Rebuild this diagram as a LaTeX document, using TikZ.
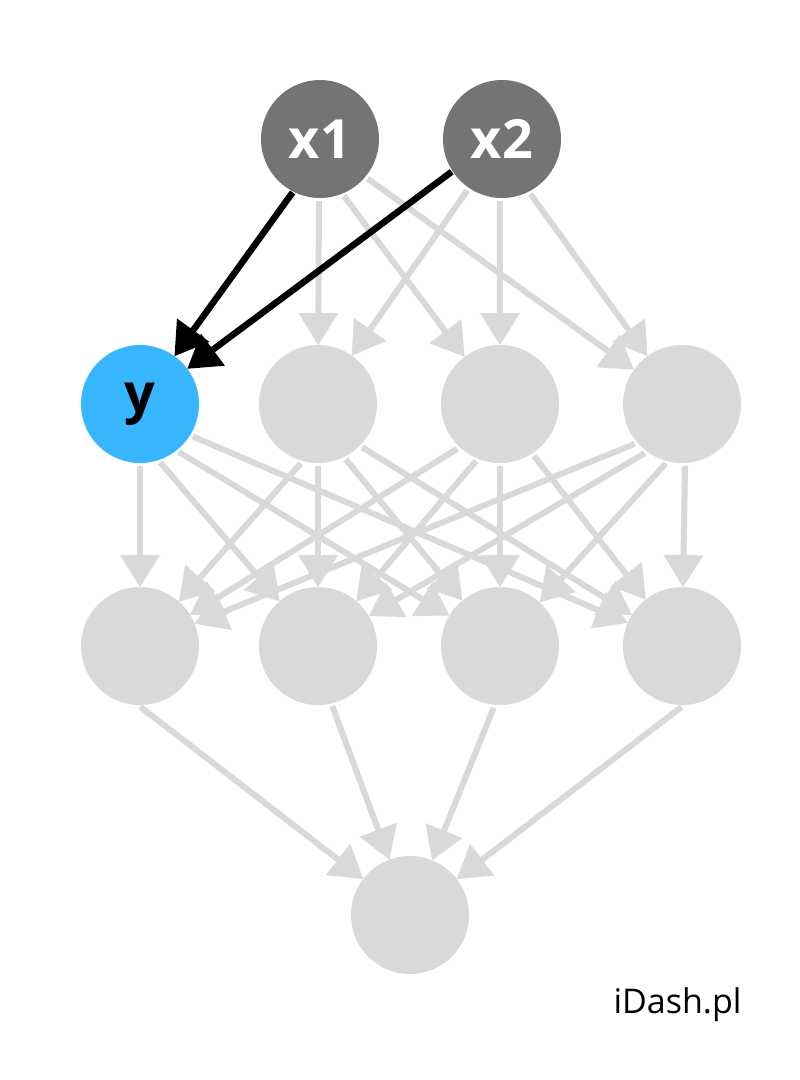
\documentclass[tikz,border=0pt]{standalone}
\usepackage{fontspec}
\setmainfont{Open Sans}
\usetikzlibrary{arrows.meta}
\definecolor{inputgray}{HTML}{747474}
\definecolor{idlegray}{HTML}{D9D9D9}
\definecolor{activeblue}{HTML}{38B6FF}
\begin{document}
\begin{tikzpicture}[x=1pt,y=-1pt,
  neuron/.style={circle,minimum size=118pt,inner sep=0pt,outer sep=0pt,fill=idlegray},
  inputneuron/.style={neuron,fill=inputgray,text=white,font=\fontsize{54}{58}\selectfont\bfseries},
  activeneuron/.style={neuron,fill=activeblue,text=black,font=\fontsize{54}{58}\selectfont\bfseries},
  gedge/.style={draw=idlegray,line width=6pt,shorten <=3pt,
    -{Triangle[length=32pt,width=40pt,line width=0pt]}},
  bedge/.style={draw=black,line width=6.5pt,shorten <=1pt,
    -{Triangle[length=32pt,width=40pt,line width=0pt]}}]
\useasboundingbox[fill=white] (0,0) rectangle (800,1080);

% inputs
\node[inputneuron] (x1) at (320,139) {x1};
\node[inputneuron] (x2) at (502,139) {x2};
% first hidden layer
\node[activeneuron] (a1) at (140,404) {y};
\node[neuron] (a2) at (318,404) {};
\node[neuron] (a3) at (500,404) {};
\node[neuron] (a4) at (682,404) {};
% second hidden layer
\node[neuron] (b1) at (140,646) {};
\node[neuron] (b2) at (318,646) {};
\node[neuron] (b3) at (500,646) {};
\node[neuron] (b4) at (682,646) {};
% output
\node[neuron] (out) at (410,915) {};

% inactive connections: source / leaving angle / target
\foreach \s/\a/\t in {
    x1/-91.5/a2, x1/-68/a3, x1/-40.5/a4,
    x2/-124.4/a2, x2/-92/a3, x2/-63.5/a4,
    a1/-90/b1, a1/-72.8/b2, a1/-52.4/b3, a1/-32.7/b4,
    a2/-105.4/b1, a2/-90/b2, a2/-64.3/b3, a2/-45.5/b4,
    a3/-133.3/b1, a3/-112.6/b2, a3/-90/b3, a3/-57.7/b4,
    a4/-139.9/b1, a4/-126.9/b2, a4/-104.5/b3, a4/-87/b4,
    b1/-92.5/out, b2/-77.6/out, b3/-95.8/out, b4/-88/out}
  \draw[gedge] (\s.\a) -- (\t);

% active connections
\draw[bedge] (x1.-117.5) -- (a1);
\draw[bedge] (x2.-147.6) -- (a1);

\node[anchor=base east,font=\fontsize{34}{38}\selectfont] (brand) at (745,1013) {iDash.pl};
\end{tikzpicture}
\end{document}
